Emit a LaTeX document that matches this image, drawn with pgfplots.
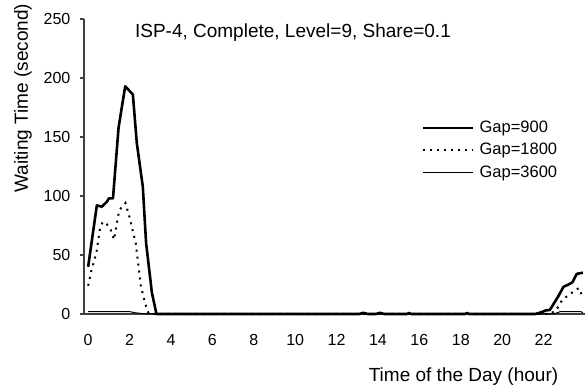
\documentclass[border=0pt]{standalone}
\usepackage{fontspec}
\setmainfont{Liberation Sans}
\usepackage{pgfplots}
\pgfplotsset{compat=1.18}
\begin{document}
\begin{tikzpicture}
\begin{axis}[
  name=ax, scale only axis, width=250.5pt, height=147.5pt,
  xmin=-0.2, xmax=24, ymin=0, ymax=250,
  enlargelimits=false, clip=false,
  axis lines*=left,
  axis line style={black!75, line width=0.6pt},
  xtick={0,2,...,22}, ytick={0,50,...,250},
  tick align=outside, major tick length=2pt,
  xtick style={draw=none},
  ytick style={black!75, line width=0.6pt},
  tick label style={font=\fontsize{8}{9.6}\selectfont},
  /pgf/number format/assume math mode=true,
  xticklabel style={anchor=base, yshift=-13.85pt},
  yticklabel style={xshift=-1.3pt},
  legend cell align=left,
  legend image code/.code={\draw[#1] (0pt,0pt) -- (25pt,0pt);},
  legend style={at={(rel axis cs:0.6747,0.6563)}, anchor=north west,
    draw=none, fill=none, inner sep=0pt, outer sep=0pt, row sep=3.65pt,
    font=\fontsize{8.25}{9.9}\selectfont,
    nodes={inner sep=0pt, text height=6pt, text depth=1.6pt},
    /tikz/every odd column/.append style={column sep=2.5pt}},
]
\coordinate (O) at (rel axis cs:0,0);
\addplot[black, line width=1.3pt, line join=round] coordinates {
 (0,40) (0.42,92) (0.66,91) (0.9,95) (1.0,98) (1.2,98) (1.47,158) (1.79,193)
 (2.16,186) (2.35,145) (2.64,108) (2.8,60) (3.08,18) (3.3,0)
 (13.1,0) (13.3,1) (13.5,0) (13.9,0) (14.1,1) (14.3,0) (15.4,0) (15.5,0.8) (15.6,0)
 (18.2,0) (18.3,0.8) (18.4,0) (21.6,0) (21.9,1.5) (22.1,3) (22.3,3.4)
 (22.7,14.7) (22.96,23) (23.2,25) (23.4,27) (23.6,34) (23.9,35)
};
\addlegendentry{Gap=900}
\addplot[black, line width=1pt, dash pattern=on 1pt off 2.5pt] coordinates {
 (0,24) (0.16,37) (0.4,52) (0.56,71) (0.7,78) (0.87,77) (1.1,71) (1.25,63)
 (1.5,88) (1.8,94) (2.0,82) (2.3,60) (2.55,23) (2.85,3) (2.95,0)
 (22.3,0) (22.6,3) (22.9,12) (23.2,16) (23.45,19) (23.7,22) (23.9,14)
};
\addlegendentry{Gap=1800}
\addplot[black, line width=0.5pt] coordinates {
 (0,2) (2.0,2) (2.3,1) (2.8,0) (22.5,0) (22.8,2) (23.8,2) (23.9,1)
};
\addlegendentry{Gap=3600}
\end{axis}
\node[anchor=base west, font=\fontsize{9.5}{11.4}\selectfont] at ([shift={(22pt,138pt)}]O) {ISP-4, Complete, Level=9, Share=0.1};
\node[rotate=90, anchor=center, font=\fontsize{9.5}{11.4}\selectfont] at ([shift={(-30.5pt,108pt)}]O) {Waiting Time (second)};
\node[anchor=base, font=\fontsize{9.5}{11.4}\selectfont] at ([shift={(189.75pt,-34pt)}]O) {Time of the Day (hour)};
\pgfresetboundingbox
\path ([shift={(-42pt,-35.5pt)}]O) rectangle ++(294pt,192.5pt);
\end{tikzpicture}
\end{document}
